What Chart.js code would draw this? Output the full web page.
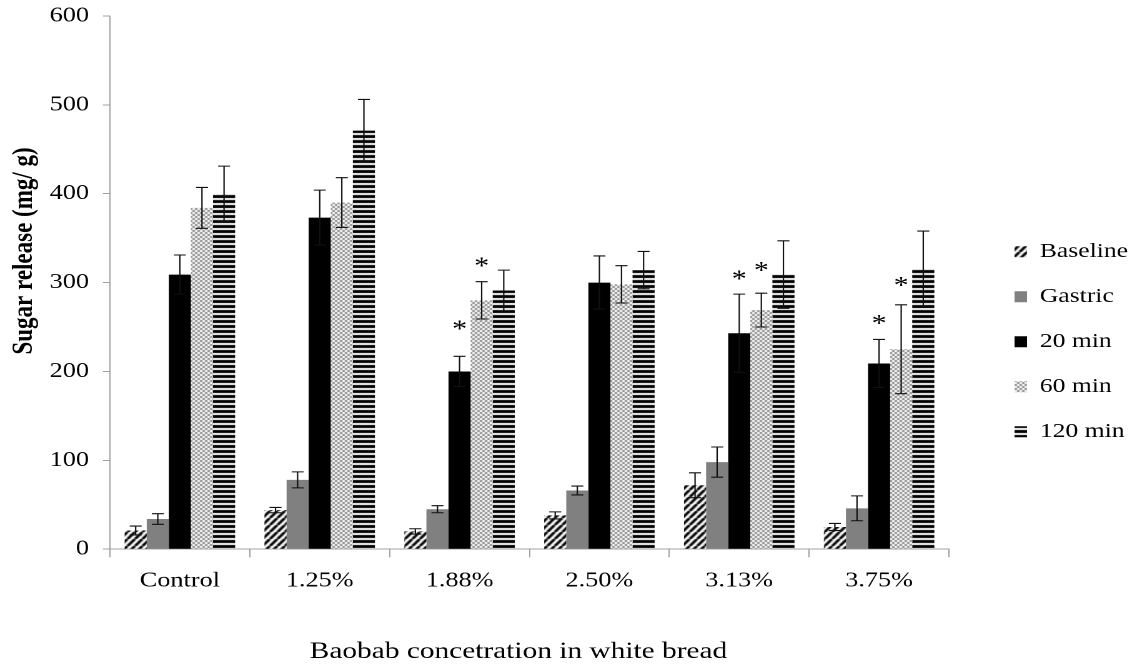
<!DOCTYPE html>
<html>
<head>
<meta charset="utf-8">
<script src="https://cdn.jsdelivr.net/npm/chart.js@4.4.1/dist/chart.umd.min.js"></script>
<style>
  html, body { margin: 0; padding: 0; background: #fff; overflow: hidden; }
  /* the original figure is horizontally stretched, so draw narrower and stretch */
  #wrap { width: 906px; height: 668px; transform: scaleX(1.2494); transform-origin: 0 0; }
</style>
</head>
<body>
<div id="wrap"><canvas id="chart"></canvas></div>
<script>
const categories = ['Control', '1.25%', '1.88%', '2.50%', '3.13%', '3.75%'];
const seriesNames = ['Baseline', 'Gastric', '20 min', '60 min', '120 min'];

const baseline = [21, 44, 20, 38, 72, 25];
const baselineErr = [5, 3, 3, 4, 14, 4];
const gastric = [34, 78, 45, 66, 98, 46];
const gastricErr = [6, 9, 4, 5, 17, 14];
const min20 = [309, 373, 200, 300, 243, 209];
const min20Err = [22, 31, 17, 30, 44, 27];
const min60 = [384, 390, 280, 298, 269, 225];
const min60Err = [23, 28, 21, 21, 19, 50];
const min120 = [400, 471, 291, 314, 309, 315];
const min120Err = [31, 35, 23, 21, 38, 43];

// asterisks (significance marks) - value where the * sits
const stars20 = [null, null, 252, null, 308, 258];
const stars60 = [null, null, 323, null, 318, 301];

const GREY_AXIS = '#a0a0a0';
const FONT = "'Liberation Serif', 'Times New Roman', serif";

function makePattern(w, h, draw) {
  const c = document.createElement('canvas');
  c.width = w; c.height = h;
  const g = c.getContext('2d');
  g.fillStyle = '#fff';
  g.fillRect(0, 0, w, h);
  draw(g);
  return g.createPattern(c, 'repeat');
}

const diagonal = makePattern(6, 7, g => {
  g.strokeStyle = '#000';
  g.lineWidth = 2.4;
  g.beginPath();
  g.moveTo(0, 7); g.lineTo(6, 0);
  g.moveTo(-6, 7); g.lineTo(0, 0);
  g.moveTo(6, 7); g.lineTo(12, 0);
  g.stroke();
});
const checker = makePattern(4, 4, g => {
  g.fillStyle = '#8c8c8c';
  g.fillRect(0, 0, 2, 2);
  g.fillRect(2, 2, 2, 2);
});
const hstripes = makePattern(4, 5, g => {
  g.fillStyle = '#000';
  g.fillRect(0, 0, 4, 3);
});

const errorBars = {
  id: 'errorBars',
  afterDatasetsDraw(chart) {
    const ctx = chart.ctx;
    const y = chart.scales.y;
    ctx.save();
    ctx.strokeStyle = '#111';
    ctx.lineWidth = 1.1;
    chart.data.datasets.forEach((ds, i) => {
      const meta = chart.getDatasetMeta(i);
      meta.data.forEach((bar, j) => {
        const v = ds.data[j];
        const e = ds.errors[j];
        const top = y.getPixelForValue(v + e);
        const bot = y.getPixelForValue(v - e);
        const x = bar.x;
        ctx.beginPath();
        ctx.moveTo(x, top); ctx.lineTo(x, bot);
        ctx.moveTo(x - 4.8, top); ctx.lineTo(x + 4.8, top);
        ctx.moveTo(x - 4.8, bot); ctx.lineTo(x + 4.8, bot);
        ctx.stroke();
        if (ds.stars && ds.stars[j] != null) {
          ctx.fillStyle = '#000';
          ctx.font = '24px ' + FONT;
          ctx.textAlign = 'center';
          ctx.textBaseline = 'middle';
          ctx.fillText('*', bar.x, y.getPixelForValue(ds.stars[j]) + 5);
        }
      });
    });
    ctx.restore();
  }
};

// put the legend column where the original has it
const legendPlace = {
  id: 'legendPlace',
  afterLayout(chart) {
    const L = chart.legend;
    const pad = L.options.labels.padding;
    const dx = 812 - (L.left + pad);
    L.left += dx; L.right += dx;
    const y0 = (L.top + pad + L.bottom - L.columnSizes[0].height) / 2;
    const dy = 241.5 - y0;
    L.top += dy; L.bottom += dy;
  }
};

new Chart(document.getElementById('chart').getContext('2d'), {
  type: 'bar',
  data: {
    labels: categories,
    datasets: [
      { label: seriesNames[0], data: baseline, errors: baselineErr, backgroundColor: diagonal },
      { label: seriesNames[1], data: gastric, errors: gastricErr, backgroundColor: '#808080' },
      { label: seriesNames[2], data: min20, errors: min20Err, stars: stars20, backgroundColor: '#000' },
      { label: seriesNames[3], data: min60, errors: min60Err, stars: stars60, backgroundColor: checker },
      { label: seriesNames[4], data: min120, errors: min120Err, backgroundColor: hstripes },
    ]
  },
  options: {
    responsive: true,
    maintainAspectRatio: false,
    animation: false,
    devicePixelRatio: 2,
    layout: { padding: 0 },
    datasets: { bar: { categoryPercentage: 0.79, barPercentage: 1.0 } },
    plugins: {
      tooltip: { enabled: false },
      legend: {
        position: 'right',
        align: 'center',
        labels: {
          boxWidth: 10,
          boxHeight: 11,
          padding: 24.5,
          color: '#000',
          font: { family: FONT, size: 20.5 }
        }
      }
    },
    scales: {
      x: {
        grid: { display: true, drawOnChartArea: false, drawTicks: true, tickLength: 8, color: GREY_AXIS, offset: true },
        border: { color: GREY_AXIS },
        ticks: { color: '#000', padding: 11, font: { family: FONT, size: 21 } },
        title: {
          display: true,
          text: 'Baobab concetration in white bread   ',
          color: '#000',
          font: { family: FONT, size: 23.5 },
          padding: { top: 33.4, bottom: 2 }
        }
      },
      y: {
        min: 0,
        max: 600,
        grid: { display: true, drawOnChartArea: false, drawTicks: true, tickLength: 5.6, color: GREY_AXIS },
        border: { color: GREY_AXIS },
        ticks: { stepSize: 100, color: '#000', padding: 11.2, font: { family: FONT, size: 21, lineHeight: 0.45 } },
        title: {
          display: true,
          text: '           Sugar release (mg/ g)',
          color: '#000',
          font: { family: FONT, size: 23, weight: 'bold' },
          padding: { top: 6, bottom: -5.1 }
        }
      },
      gap: {
        position: 'right',
        display: true,
        grid: { display: false },
        border: { display: false },
        ticks: { display: false },
        afterFit(scale) { scale.width = 21.1; }
      }
    }
  },
  plugins: [errorBars, legendPlace]
});
</script>
</body>
</html>
